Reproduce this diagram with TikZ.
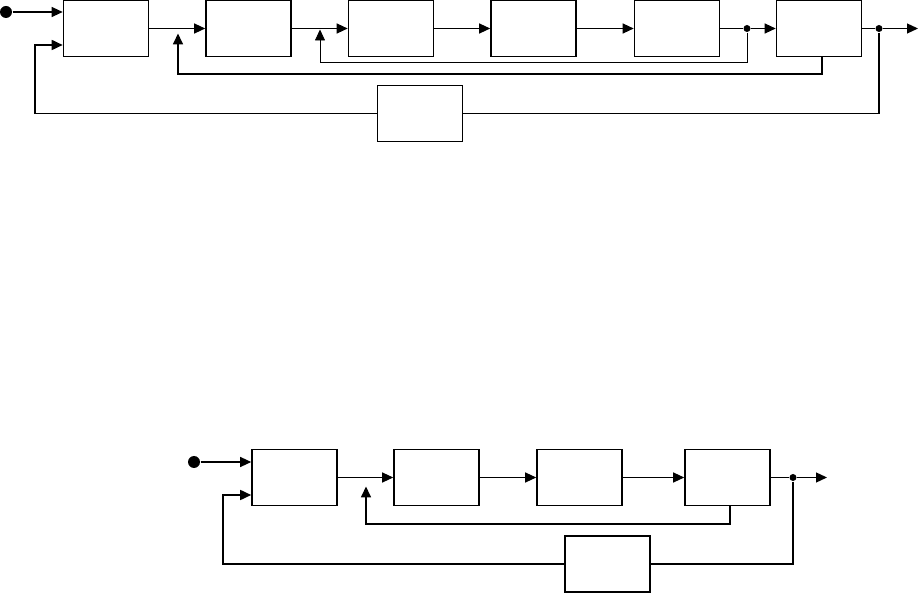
\documentclass[tikz,border=0pt]{standalone}
\usetikzlibrary{arrows.meta}
\tikzset{
  blk/.style={draw, line width=1.6pt, minimum width=85pt, minimum height=56pt, inner sep=0pt},
  jdot/.style={circle, fill, inner sep=0pt, minimum size=7pt},
  srcdot/.style={circle, fill, inner sep=0pt, minimum size=12pt},
  fb/.style={line width=1.7pt},
}
\begin{document}
\begin{tikzpicture}[x=1pt, y=-1pt, line width=1.2pt, >={Triangle[length=11pt, width=10pt]}]
        \useasboundingbox (0,0) rectangle (919,593);

        % Upper diagram: blocks
        \node[blk] (a1) at (106,28.5) {};
        \node[blk] (a2) at (248.5,28.5) {};
        \node[blk] (a3) at (391,28.5) {};
        \node[blk] (a4) at (533.5,28.5) {};
        \node[blk] (a5) at (677,28.5) {};
        \node[blk] (a6) at (819,28.5) {};
        \node[blk] (a7) at (420,113.5) {};

        % Upper diagram: input, junctions, output
        \node[srcdot] (in1) at (6,12) {};
        \node[jdot] (j1) at (747,28.5) {};
        \node[jdot] (j2) at (879,28.5) {};
        \coordinate (out1) at (918,28.5);
        \coordinate (s1) at (178,28.5);
        \coordinate (s2) at (320,28.5);

        % Forward path
        \draw[->] (in1) -- (in1 -| a1.west);
        \draw[->] (a1) -- (a2);
        \draw[->] (a2) -- (a3);
        \draw[->] (a3) -- (a4);
        \draw[->] (a4) -- (a5);
        \draw (a5) -- (j1);
        \draw[->] (j1) -- (a6);
        \draw (a6) -- (j2);
        \draw[->] (j2) -- (out1);

        % Feedback loops
        \draw[->, line width=0.8pt] (j1) |- (320,62) -- ([yshift=-1pt]s2);
        \draw[->, fb] ([xshift=3pt]a6.south) |- (178,74) -- ([yshift=-5pt]s1);
        \draw[fb] (j2) |- (a7);
        \draw[->, fb] (a7) -| (35,45) -- ([yshift=-16.5pt]a1.west);

        % Lower diagram: blocks
        \node[blk] (c1) at (294.5,477.5) {};
        \node[blk] (c2) at (436.5,477.5) {};
        \node[blk] (c3) at (579.5,477.5) {};
        \node[blk] (c4) at (727.5,477.5) {};
        \node[blk] (c5) at (607.5,564) {};

        % Lower diagram: input, junction, output
        \node[srcdot] (in2) at (194,462) {};
        \node[jdot] (k1) at (793,477.5) {};
        \coordinate (out2) at (827,477.5);
        \coordinate (s3) at (366,477.5);

        % Forward path
        \draw[->] (in2) -- (in2 -| c1.west);
        \draw[->] (c1) -- (c2);
        \draw[->] (c2) -- (c3);
        \draw[->] (c3) -- (c4);
        \draw (c4) -- (k1);
        \draw[->] (k1) -- (out2);

        % Feedback loops
        \draw[->, fb] ([xshift=2.5pt]c4.south) |- (366,524) -- ([yshift=-9pt]s3);
        \draw[fb] (k1) |- (c5);
        \draw[->, fb] (c5) -| (223,495) -- ([yshift=-17.5pt]c1.west);
      \end{tikzpicture}
\end{document}
